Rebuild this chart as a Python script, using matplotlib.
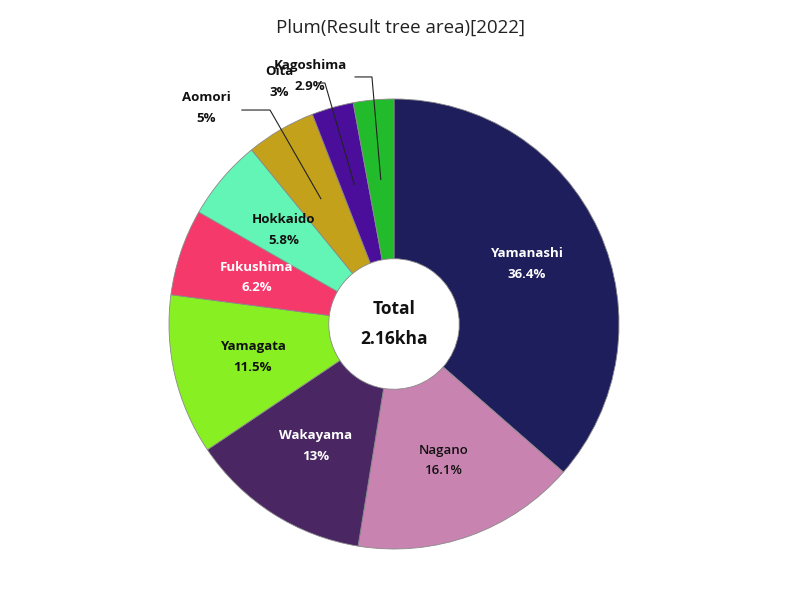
import numpy as np
import matplotlib
matplotlib.use("Agg")
import matplotlib.pyplot as plt

plt.rcParams['font.family'] = ['Open Sans', 'DejaVu Sans']

regions = ["Yamanashi", "Nagano", "Wakayama", "Yamagata", "Fukushima",
           "Hokkaido", "Aomori", "Oita", "Kagoshima"]
shares = [36.4, 16.1, 13, 11.5, 6.2, 5.8, 5, 3, 2.9]
share_labels = ["36.4%", "16.1%", "13%", "11.5%", "6.2%", "5.8%", "5%", "3%", "2.9%"]
colors = ["#1e1e5c", "#c883b0", "#4a2662", "#88ef22", "#f5396a",
          "#62f5b5", "#c4a11b", "#4b0e9a", "#22bb2b"]
text_colors = ["white", "#111111", "white", "#111111", "white",
               "#111111", "#111111", "#111111", "#111111"]
total_label = "2.16kha"

# outside labels for the thin slices: (elbow x, elbow y, end x, text x, text y)
outside = {
    "Aomori": (-0.551, 0.951, -0.676, -0.836, 0.960),
    "Oita": (-0.307, 1.071, -0.338, -0.511, 1.076),
    "Kagoshima": (-0.098, 1.098, -0.173, -0.373, 1.102),
}

fig = plt.figure(figsize=(8, 6), dpi=100)
ax = fig.add_axes([0, 0, 1, 1])

inner = 0.29
wedges, _ = ax.pie(shares, colors=colors, radius=1, startangle=90,
                   counterclock=False,
                   wedgeprops=dict(width=1 - inner, edgecolor='#8a8a8a', linewidth=0.6))

R = 225.0
cx, cy = 394.0, 276.0
ax.set_xlim(-cx / R, (800 - cx) / R)
ax.set_ylim(-cy / R, (600 - cy) / R)
ax.set_aspect('equal')
ax.axis('off')

rmid = (1 + inner) / 2
for w, name, lab, tc in zip(wedges, regions, share_labels, text_colors):
    ang = np.deg2rad((w.theta1 + w.theta2) / 2)
    if name in outside:
        ex, ey, endx, tx, ty = outside[name]
        sx, sy = rmid * np.cos(ang), rmid * np.sin(ang)
        ax.plot([sx, ex, endx], [sy, ey, ey], color='#222222', lw=0.8)
        ax.text(tx, ty, name + "\n" + lab, ha='center', va='center',
                fontsize=9.5, fontweight='bold', color=tc, linespacing=1.75)
    else:
        weight = 'semibold' if name == "Nagano" else 'bold'
        ax.text(rmid * np.cos(ang), rmid * np.sin(ang), name + "\n" + lab,
                ha='center', va='center', fontsize=9.5, fontweight=weight,
                color=tc, linespacing=1.75)

ax.text(0, 0, "Total\n" + total_label, ha='center', va='center',
        fontsize=12.5, fontweight='bold', color='#111111', linespacing=1.85)

fig.text(0.5, 0.953, "Plum(Result tree area)[2022]", ha='center', va='center',
         fontsize=13.5, color='#222222')

fig.savefig("out.png", dpi=100)
